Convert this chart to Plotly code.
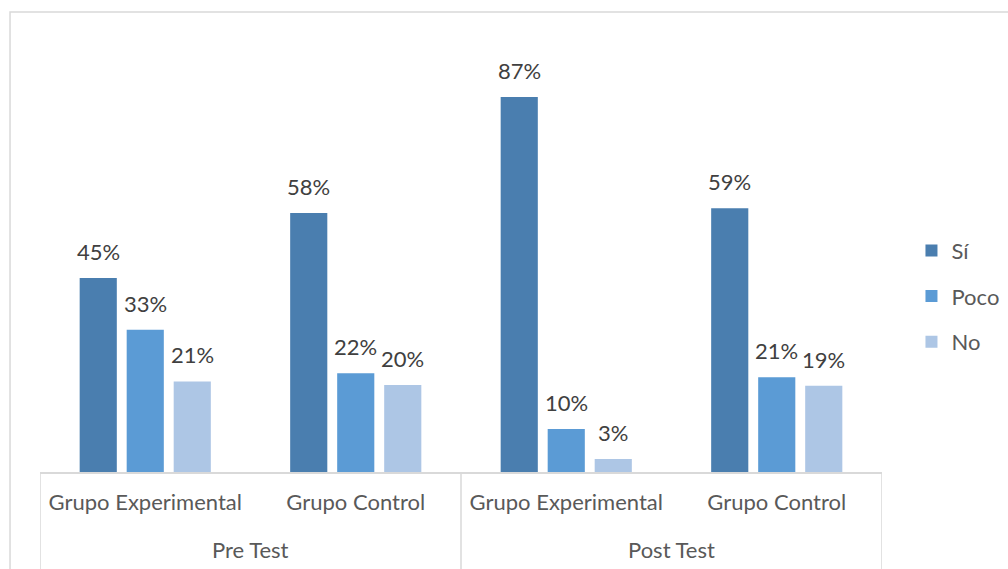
import plotly.graph_objects as go

tests = ["Pre Test", "Post Test"]
groups = ["Grupo Experimental", "Grupo Control", "Grupo Experimental", "Grupo Control"]
series_names = ["Sí", "Poco", "No"]
# bar heights as drawn in the picture (%)
si = [45, 60.1, 87, 61.2]
poco = [33, 22.9, 10, 22.0]
no = [21, 20.2, 3, 20.0]
# data labels as printed on the picture
si_labels = ["45%", "58%", "87%", "59%"]
poco_labels = ["33%", "22%", "10%", "21%"]
no_labels = ["21%", "20%", "3%", "19%"]
colors = ["#4A7EAF", "#5B9BD5", "#ADC6E5"]
values = [si, poco, no]
labels = [si_labels, poco_labels, no_labels]

FONT = "Lato"
BARGAP = 0.33
BARGROUPGAP = 0.21
xpos = list(range(len(groups)))

fig = go.Figure()
for k, (name, vals, col) in enumerate(zip(series_names, values, colors)):
    fig.add_trace(go.Bar(
        x=xpos, y=vals, name=name, marker_color=col, marker_line_width=0,
        legendgroup=name,
    ))

# data labels as annotations above bars
slot = (1 - BARGAP) / len(series_names)
annotations = []
for k, (vals, labs) in enumerate(zip(values, labels)):
    off = (k - (len(series_names) - 1) / 2) * slot
    for i, (v, lab) in enumerate(zip(vals, labs)):
        annotations.append(dict(
            x=xpos[i] + off, y=v, xref="x", yref="y", text=lab,
            showarrow=False, yanchor="bottom", yshift=11,
            font=dict(family=FONT, size=22, color="#404040"),
        ))

# top-level category labels
n_sub = len(groups) // len(tests)
for j, t in enumerate(tests):
    annotations.append(dict(
        x=j * n_sub + (n_sub - 1) / 2, y=-0.1787, xref="x", yref="paper",
        text=t, showarrow=False, yanchor="middle",
        font=dict(family=FONT, size=22, color="#595959"),
    ))

shapes = [dict(type="rect", xref="paper", yref="paper",
               x0=-0.0356, x1=2, y0=-1, y1=1.067,
               line=dict(color="#D9D9D9", width=1.5), fillcolor="rgba(0,0,0,0)",
               layer="below")]
for j in range(len(tests) + 1):
    shapes.append(dict(type="line", xref="x", yref="paper",
                       x0=j * n_sub - 0.5, x1=j * n_sub - 0.5, y0=0, y1=-0.5,
                       line=dict(color="#D9D9D9", width=1.5)))

fig.update_layout(
    width=1008, height=569,
    margin=dict(l=40, r=126, t=41, b=97, autoexpand=False),
    paper_bgcolor="white", plot_bgcolor="white",
    barmode="group", bargap=BARGAP, bargroupgap=BARGROUPGAP,
    font=dict(family=FONT, size=22, color="#595959"),
    showlegend=True,
    legend=dict(x=1.035, y=0.408, xanchor="left", yanchor="middle",
                font=dict(family=FONT, size=22, color="#595959"),
                tracegroupgap=14, itemwidth=30),
    annotations=annotations,
    shapes=shapes,
)
fig.update_xaxes(range=[-0.5, len(groups) - 0.5], tickvals=xpos, ticktext=groups,
                 showline=True, linecolor="#D9D9D9", linewidth=1.5,
                 ticks="", ticklabelstandoff=10, automargin=False, showgrid=False,
                 zeroline=False,
                 tickfont=dict(family=FONT, size=22, color="#595959"))
fig.update_yaxes(range=[0, 100], visible=False, showgrid=False)
fig.write_html("out.html", config={"displayModeBar": False},
               post_script="document.body.style.margin='0';document.body.style.overflow='hidden';")
